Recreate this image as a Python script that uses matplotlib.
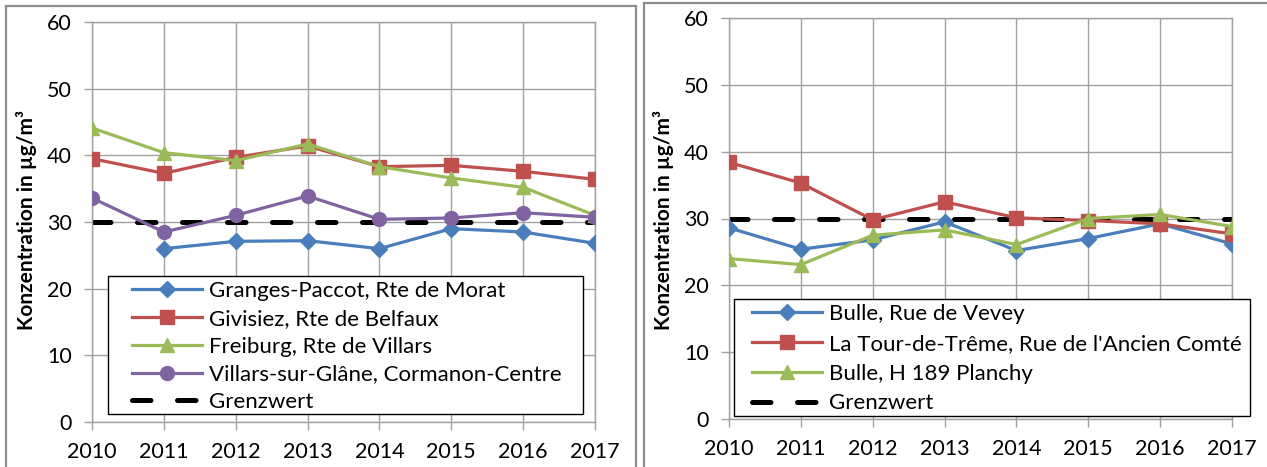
import numpy as np
import matplotlib.pyplot as plt
from matplotlib.patches import Rectangle

plt.rcParams['font.family'] = ['Lato', 'DejaVu Sans']

years = [2010, 2011, 2012, 2013, 2014, 2015, 2016, 2017]
grenzwert = 30

# left panel
left_names = ['Granges-Paccot, Rte de Morat', 'Givisiez, Rte de Belfaux',
              'Freiburg, Rte de Villars', 'Villars-sur-Glâne, Cormanon-Centre']
granges = [np.nan, 26.0, 27.1, 27.2, 26.0, 29.0, 28.5, 26.8]
givisiez = [39.5, 37.3, 39.7, 41.4, 38.3, 38.5, 37.6, 36.4]
freiburg = [44.1, 40.4, 39.2, 41.7, 38.3, 36.6, 35.2, 31.0]
villars = [33.6, 28.5, 31.0, 33.9, 30.4, 30.6, 31.4, 30.7]
left_values = [granges, givisiez, freiburg, villars]

# right panel
right_names = ['Bulle, Rue de Vevey', "La Tour-de-Trême, Rue de l'Ancien Comté",
               'Bulle, H 189 Planchy']
vevey = [28.6, 25.4, 26.8, 29.5, 25.2, 27.0, 29.2, 26.2]
tour = [38.4, 35.3, 29.8, 32.5, 30.1, 29.7, 29.2, 27.7]
planchy = [24.0, 23.1, 27.5, 28.3, 26.1, 30.0, 30.6, 28.8]
right_values = [vevey, tour, planchy]

colors = ['#4a7ebb', '#c0504d', '#9bbb59', '#8064a2']
markers = ['D', 's', '^', 'o']
msizes = [8.5, 9.5, 10, 10]

W, H = 1267, 467
fig = plt.figure(figsize=(W / 100, H / 100), dpi=100)

# panel frames
fig.patches.append(Rectangle((6 / W, -0.1), 630 / W, 1.1 - 6 / H, transform=fig.transFigure,
                             fill=False, edgecolor='#8c8c8c', lw=1.6, clip_on=False))
fig.patches.append(Rectangle((644 / W, -0.1), 640 / W, 1.1 - 3 / H, transform=fig.transFigure,
                             fill=False, edgecolor='#8c8c8c', lw=1.6, clip_on=False))

grid_c = '#a0a0a0'


def make_panel(rect, names, values, box, handle_x, top_y, leg_spacing, ylab_x):
    ax = fig.add_axes(rect)
    for i, (name, vals) in enumerate(zip(names, values)):
        ax.plot(years, vals, color=colors[i], lw=2.3, marker=markers[i],
                markersize=msizes[i], markeredgecolor=colors[i], label=name, zorder=3 + i * 0.1)
    ax.plot(years, [grenzwert] * len(years), color='black', lw=3.6, dashes=(3.7, 5.3),
            dash_capstyle='round', label='Grenzwert', zorder=2.5)
    ax.set_xlim(years[0], years[-1])
    ax.set_ylim(0, 60)
    ax.set_yticks(range(0, 61, 10))
    ax.set_xticks(years)
    ax.grid(True, color=grid_c, lw=1)
    for s in ax.spines.values():
        s.set_color(grid_c)
        s.set_linewidth(1)
    ax.tick_params(axis='both', colors=grid_c, labelcolor='black', labelsize=15.5,
                   length=5.5, width=1)
    ax.tick_params(axis='x', pad=9)
    ax.tick_params(axis='y', pad=9)
    # legend box drawn separately, legend itself frameless
    x0, y0, x1, y1 = box
    ax.add_patch(Rectangle((x0, y0), x1 - x0, y1 - y0, transform=ax.transAxes,
                           facecolor='white', edgecolor='black', lw=1, zorder=4.9,
                           clip_on=False))
    leg = ax.legend(loc='upper left', bbox_to_anchor=(handle_x, top_y), fontsize=16,
                    frameon=False, handlelength=3.15, labelspacing=leg_spacing,
                    borderaxespad=0, handletextpad=0.3, borderpad=0)
    leg.set_zorder(5)
    fig.text(ylab_x / W, 0.529, 'Konzentration in µg/m³', rotation=90, ha='center',
             va='center', fontsize=15, fontweight='bold')
    return ax


make_panel([92 / W, 1 - 422 / H, 503 / W, 400 / H], left_names, left_values,
           (16 / 503, 8 / 400, 491 / 503, 146 / 400), 40 / 503, 141 / 400, 0.35, 27)
make_panel([729 / W, 1 - 419 / H, 503 / W, 401 / H], right_names, right_values,
           (5 / 503, 3 / 401, 521 / 503, 120 / 401), 23 / 503, 115 / 401, 0.44, 663)

fig.savefig('out.png', dpi=100)
